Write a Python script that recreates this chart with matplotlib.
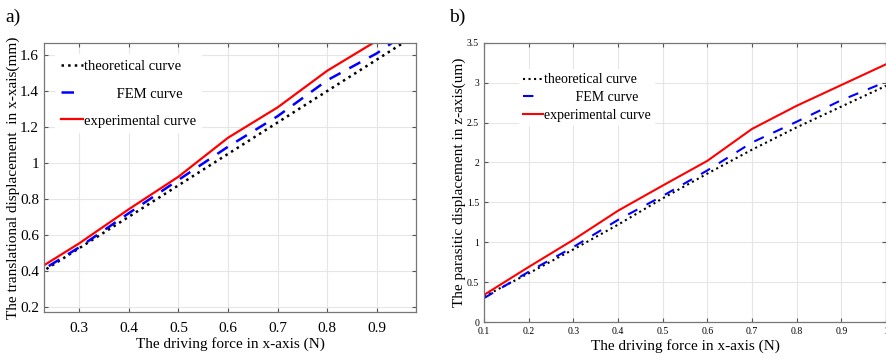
import matplotlib.pyplot as plt
import numpy as np

plt.rcParams['font.family'] = ['Liberation Serif', 'DejaVu Serif']

# panel a) translational displacement in x (mm)
force_a = [0.2, 0.3, 0.4, 0.5, 0.6, 0.7, 0.8, 0.9, 1.0]
theory_a = [0.35, 0.525, 0.70, 0.875, 1.05, 1.225, 1.40, 1.575, 1.75]
fem_a = [0.36, 0.53, 0.72, 0.905, 1.09, 1.26, 1.46, 1.61, 1.80]
exp_a = [0.38, 0.552, 0.742, 0.923, 1.14, 1.309, 1.513, 1.68, 1.86]

# panel b) parasitic displacement in z (um)
force_b = [0.1, 0.2, 0.3, 0.4, 0.5, 0.6, 0.7, 0.8, 0.9, 1.0]
theory_b = [0.32, 0.61, 0.91, 1.22, 1.55, 1.86, 2.16, 2.44, 2.70, 2.96]
fem_b = [0.30, 0.63, 0.94, 1.28, 1.58, 1.90, 2.25, 2.51, 2.78, 3.01]
exp_b = [0.34, 0.69, 1.03, 1.395, 1.71, 2.02, 2.42, 2.71, 2.97, 3.23]

labels = ['theoretical curve', '         FEM curve', 'experimental curve']


def style_axes(ax, tick_size):
    ax.grid(True, color='#e6e6e6', linewidth=0.8)
    ax.set_axisbelow(True)
    ax.tick_params(direction='in', top=True, right=True, labelsize=tick_size,
                   color='#555555', length=3)
    for s in ax.spines.values():
        s.set_color('#777777')
        s.set_linewidth(0.9)


fig = plt.figure(figsize=(8.87, 3.59), dpi=100)

ax1 = fig.add_axes([0.0496, 0.131, 0.4194, 0.749])
ax1.plot(force_a, theory_a, color='black', linestyle=':', linewidth=1.8, label=labels[0])
ax1.plot(force_a, fem_a, color='blue', linestyle=(0, (5, 4)), linewidth=1.8, label=labels[1])
ax1.plot(force_a, exp_a, color='red', linewidth=1.6, label=labels[2])
ax1.set_xlim(0.229, 0.979)
ax1.set_ylim(0.17, 1.667)
ax1.set_xticks([0.3, 0.4, 0.5, 0.6, 0.7, 0.8, 0.9])
ax1.set_yticks([0.2, 0.4, 0.6, 0.8, 1.0, 1.2, 1.4, 1.6])
ax1.set_yticklabels(['0.2', '0.4', '0.6', '0.8', '1', '1.2', '1.4', '1.6'])
style_axes(ax1, 11)
ax1.tick_params(axis='x', pad=7)
ax1.set_xlabel('The driving force in x-axis (N)', fontsize=11, labelpad=2)
ax1.set_ylabel('The translational displacement  in x-xais(mm)', fontsize=11, labelpad=0)
ax1.legend(loc='upper left', bbox_to_anchor=(0.01, 0.985), fontsize=10.5,
           frameon=True, facecolor='white', edgecolor='none', framealpha=1,
           fancybox=False, handlelength=1.5, handletextpad=0.1,
           labelspacing=0.95, borderpad=0.4)

ax2 = fig.add_axes([0.5457, 0.103, 0.4532, 0.778])
ax2.plot(force_b, theory_b, color='black', linestyle=':', linewidth=1.5, label=labels[0])
ax2.plot(force_b, fem_b, color='blue', linestyle=(0, (5, 5)), linewidth=1.5, label=labels[1])
ax2.plot(force_b, exp_b, color='red', linewidth=1.5, label=labels[2])
ax2.set_xlim(0.1, 1.0)
ax2.set_ylim(0, 3.5)
ax2.set_xticks([0.1, 0.2, 0.3, 0.4, 0.5, 0.6, 0.7, 0.8, 0.9, 1.0])
ax2.set_xticklabels(['0.1', '0.2', '0.3', '0.4', '0.5', '0.6', '0.7', '0.8', '0.9', '1'])
ax2.set_yticks([0, 0.5, 1, 1.5, 2, 2.5, 3, 3.5])
ax2.set_yticklabels(['0', '0.5', '1', '1.5', '2', '2.5', '3', '3.5'])
style_axes(ax2, 7)
ax2.set_xlabel('The driving force in x-axis (N)', fontsize=11, labelpad=2)
ax2.set_ylabel('The parasitic displacement in z-axis(um)', fontsize=11, labelpad=1)
ax2.legend(loc='upper left', bbox_to_anchor=(0.07, 0.93), fontsize=10,
           frameon=True, facecolor='white', edgecolor='none', framealpha=1,
           fancybox=False, handlelength=1.4, handletextpad=0.1,
           labelspacing=0.35, borderpad=0.3)

fig.text(0.006, 0.939, 'a)', fontsize=14)
fig.text(0.506, 0.939, 'b)', fontsize=14)

fig.savefig('out.png', dpi=100)
